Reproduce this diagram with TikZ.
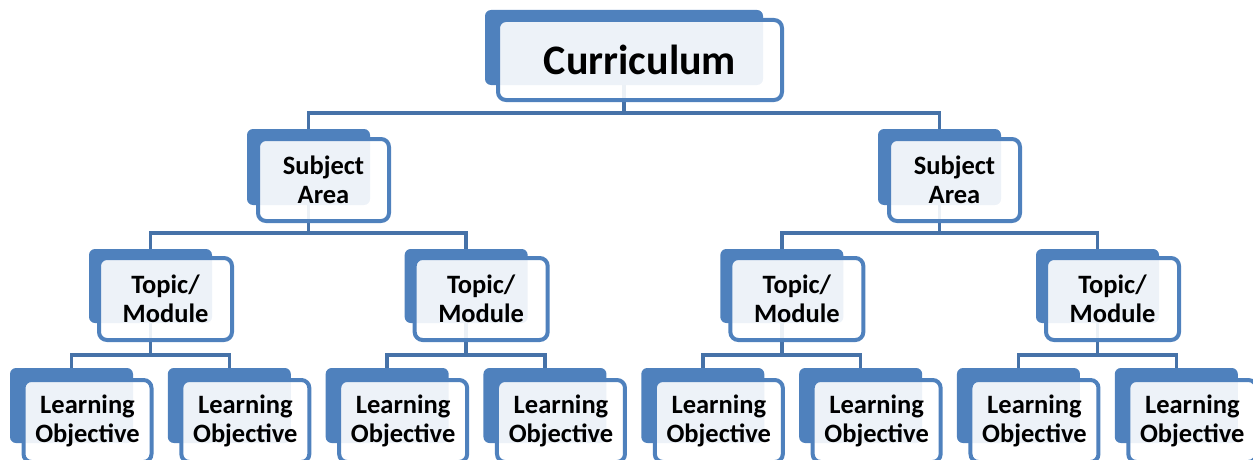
\documentclass[tikz,border=0pt]{standalone}
\usepackage{fontspec}
\setmainfont{Carlito}
\usetikzlibrary{calc}
\definecolor{boxblue}{HTML}{4F81BD}
\definecolor{lineblue}{HTML}{4672A8}

\begin{document}
\begin{tikzpicture}[x=1pt, y=-1pt,
    back/.style={fill=boxblue, rounded corners=6pt, inner sep=0pt},
    front/.style={draw=boxblue, line width=4pt, fill=white, fill opacity=0.9, text opacity=1,
        rounded corners=8pt, inner sep=0pt, align=center, font=\bfseries\fontsize{26.5}{29}\selectfont},
    conn/.style={draw=lineblue, line width=3.5pt}]

    \useasboundingbox (0,0) rectangle (1253,460);

    % Curriculum (back plate)
    \node[back, minimum width=278pt, minimum height=75pt] (C) at (624,47.5) {};

    % Subject areas (back plates)
    \foreach \i/\x in {1/308.5, 2/939.5} {
        \node[back, minimum width=123pt, minimum height=76pt] (S\i) at (\x,167) {};
    }

    % Topics (back plates)
    \foreach \i in {1,...,4} {
        \node[back, minimum width=123pt, minimum height=74pt] (T\i) at ({150.5+315.67*(\i-1)},286) {};
    }

    % Learning objectives (back plates)
    \foreach \i in {1,...,8} {
        \node[back, minimum width=123pt, minimum height=75pt] (L\i) at ({71.5+157.83*(\i-1)},405.5) {};
    }

    % Edges between curriculum and subject areas
    \foreach \i in {1,2} {
        \draw[conn] (S\i.north) -- ++(0,-16) -| (C.south);
    }

    % Edges between subject areas and topics
    \foreach \pa/\ch in {1/1, 1/2, 2/3, 2/4} {
        \draw[conn] (T\ch.north) -- ++(0,-16) -| (S\pa.south);
    }

    % Edges between topics and learning objectives
    \foreach \pa/\ch in {1/1, 1/2, 2/3, 2/4, 3/5, 3/6, 4/7, 4/8} {
        \draw[conn] (L\ch.north) -- ++(0,-13) -| (T\pa.south);
    }

    % Front cards with the texts
    \node[front, minimum width=284pt, minimum height=80pt,
        font=\bfseries\fontsize{42}{50}\selectfont] (CF) at ($(C)+(16,12.5)$) {Curriculum};
    \foreach \i in {1,2} {
        \node[front, minimum width=131pt, minimum height=82pt] (SF\i) at ($(S\i)+(15,13)$) {Subject\\Area};
    }
    \foreach \i in {1,...,4} {
        \node[front, minimum width=133pt, minimum height=82pt] (TF\i) at ($(T\i)+(15,13)$) {Topic/\\Module};
    }
    \foreach \i in {1,...,8} {
        \node[front, minimum width=128pt, minimum height=82pt] (LF\i) at ($(L\i)+(16,15.5)$) {Learning\\Objective};
    }

\end{tikzpicture}
\end{document}
